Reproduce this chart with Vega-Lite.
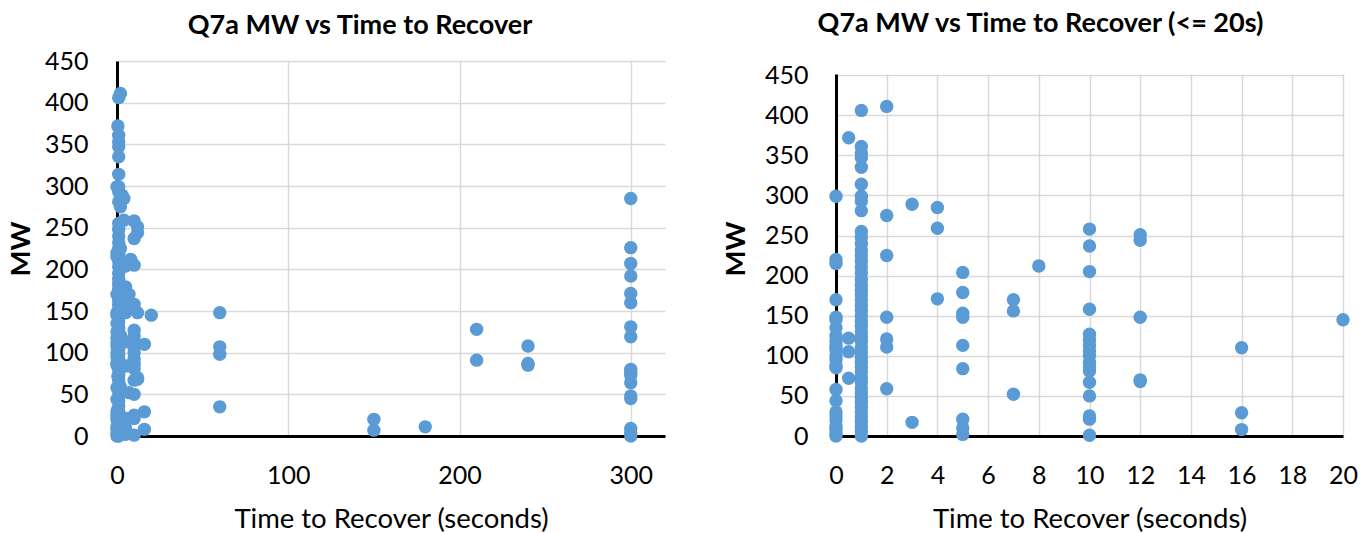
{
  "$schema": "https://vega.github.io/schema/vega-lite/v6.json",
  "background": "white",
  "padding": {"left": 7, "top": 10, "right": 5, "bottom": 0},
  "data": {"values": [
    {"t": 0, "mw": 299}, {"t": 0, "mw": 220}, {"t": 0, "mw": 215}, {"t": 0, "mw": 170}, {"t": 0, "mw": 148}, {"t": 0, "mw": 145}, {"t": 0, "mw": 135}, {"t": 0, "mw": 125}, {"t": 0, "mw": 118}, {"t": 0, "mw": 112}, {"t": 0, "mw": 108}, {"t": 0, "mw": 100}, {"t": 0, "mw": 95}, {"t": 0, "mw": 88}, {"t": 0, "mw": 85}, {"t": 0, "mw": 58}, {"t": 0, "mw": 44}, {"t": 0, "mw": 30}, {"t": 0, "mw": 25}, {"t": 0, "mw": 20}, {"t": 0, "mw": 12}, {"t": 0, "mw": 8}, {"t": 0, "mw": 3}, {"t": 0, "mw": 0},
    {"t": 0.5, "mw": 372}, {"t": 0.5, "mw": 122}, {"t": 0.5, "mw": 105}, {"t": 0.5, "mw": 72},
    {"t": 1, "mw": 406}, {"t": 1, "mw": 361}, {"t": 1, "mw": 353}, {"t": 1, "mw": 347}, {"t": 1, "mw": 335}, {"t": 1, "mw": 314}, {"t": 1, "mw": 299}, {"t": 1, "mw": 293}, {"t": 1, "mw": 281}, {"t": 1, "mw": 255}, {"t": 1, "mw": 248}, {"t": 1, "mw": 240}, {"t": 1, "mw": 232}, {"t": 1, "mw": 225}, {"t": 1, "mw": 218}, {"t": 1, "mw": 210}, {"t": 1, "mw": 203}, {"t": 1, "mw": 195}, {"t": 1, "mw": 188}, {"t": 1, "mw": 182}, {"t": 1, "mw": 176}, {"t": 1, "mw": 170}, {"t": 1, "mw": 163}, {"t": 1, "mw": 157}, {"t": 1, "mw": 150}, {"t": 1, "mw": 143}, {"t": 1, "mw": 137}, {"t": 1, "mw": 130}, {"t": 1, "mw": 124}, {"t": 1, "mw": 118}, {"t": 1, "mw": 111}, {"t": 1, "mw": 104}, {"t": 1, "mw": 98}, {"t": 1, "mw": 92}, {"t": 1, "mw": 86}, {"t": 1, "mw": 80}, {"t": 1, "mw": 73}, {"t": 1, "mw": 67}, {"t": 1, "mw": 60}, {"t": 1, "mw": 54}, {"t": 1, "mw": 48}, {"t": 1, "mw": 42}, {"t": 1, "mw": 36}, {"t": 1, "mw": 30}, {"t": 1, "mw": 24}, {"t": 1, "mw": 18}, {"t": 1, "mw": 12}, {"t": 1, "mw": 6}, {"t": 1, "mw": 0},
    {"t": 2, "mw": 411}, {"t": 2, "mw": 275}, {"t": 2, "mw": 225}, {"t": 2, "mw": 148}, {"t": 2, "mw": 121}, {"t": 2, "mw": 111}, {"t": 2, "mw": 59},
    {"t": 3, "mw": 289}, {"t": 3, "mw": 17},
    {"t": 4, "mw": 285}, {"t": 4, "mw": 259}, {"t": 4, "mw": 171},
    {"t": 5, "mw": 204}, {"t": 5, "mw": 179}, {"t": 5, "mw": 153}, {"t": 5, "mw": 148}, {"t": 5, "mw": 113}, {"t": 5, "mw": 84}, {"t": 5, "mw": 21}, {"t": 5, "mw": 10}, {"t": 5, "mw": 2},
    {"t": 7, "mw": 170}, {"t": 7, "mw": 156}, {"t": 7, "mw": 52},
    {"t": 8, "mw": 212},
    {"t": 10, "mw": 258}, {"t": 10, "mw": 237}, {"t": 10, "mw": 205}, {"t": 10, "mw": 158}, {"t": 10, "mw": 127}, {"t": 10, "mw": 120}, {"t": 10, "mw": 113}, {"t": 10, "mw": 106}, {"t": 10, "mw": 100}, {"t": 10, "mw": 92}, {"t": 10, "mw": 86}, {"t": 10, "mw": 81}, {"t": 10, "mw": 67}, {"t": 10, "mw": 50}, {"t": 10, "mw": 25}, {"t": 10, "mw": 21}, {"t": 10, "mw": 1},
    {"t": 12, "mw": 251}, {"t": 12, "mw": 244}, {"t": 12, "mw": 148}, {"t": 12, "mw": 70}, {"t": 12, "mw": 68},
    {"t": 16, "mw": 110}, {"t": 16, "mw": 29}, {"t": 16, "mw": 8},
    {"t": 20, "mw": 145},
    {"t": 60, "mw": 148}, {"t": 60, "mw": 107}, {"t": 60, "mw": 98}, {"t": 60, "mw": 35},
    {"t": 150, "mw": 20}, {"t": 150, "mw": 7},
    {"t": 180, "mw": 11},
    {"t": 210, "mw": 128}, {"t": 210, "mw": 91},
    {"t": 240, "mw": 108}, {"t": 240, "mw": 87}, {"t": 240, "mw": 85},
    {"t": 300, "mw": 285}, {"t": 300, "mw": 226}, {"t": 300, "mw": 207}, {"t": 300, "mw": 192}, {"t": 300, "mw": 171}, {"t": 300, "mw": 160}, {"t": 300, "mw": 131}, {"t": 300, "mw": 119}, {"t": 300, "mw": 80}, {"t": 300, "mw": 76}, {"t": 300, "mw": 73}, {"t": 300, "mw": 64}, {"t": 300, "mw": 48}, {"t": 300, "mw": 45}, {"t": 300, "mw": 9}, {"t": 300, "mw": 4}, {"t": 300, "mw": 0}
  ]},
  "config": {
    "view": {"stroke": null},
    "font": "Lato",
    "axis": {
      "labelFont": "Lato", "labelFontSize": 25, "labelColor": "#000", "labelFlush": false,
      "titleFont": "Lato", "titleFontSize": 27.5, "titleColor": "#000",
      "ticks": false, "grid": true, "gridColor": "#d9d9d9", "gridWidth": 1.5,
      "domainColor": "#000", "domainWidth": 3
    },
    "title": {"font": "Lato", "fontSize": 27, "fontWeight": "bold", "color": "#000"}
  },
  "spacing": 57,
  "hconcat": [
    {
      "title": {"text": "Q7a MW vs Time to Recover", "offset": 9, "dx": -31},
      "width": 548,
      "height": 375,
      "mark": {"type": "circle", "size": 180, "opacity": 1, "color": "#5B9BD5"},
      "encoding": {
        "x": {"field": "t", "type": "quantitative", "scale": {"domain": [0, 320], "nice": false},
          "axis": {"values": [0, 100, 200, 300], "grid": true, "title": "Time to Recover (seconds)", "titleFontWeight": "normal", "labelPadding": 27, "titlePadding": 17}},
        "y": {"field": "mw", "type": "quantitative", "scale": {"domain": [0, 450], "nice": false},
          "axis": {"values": [0, 50, 100, 150, 200, 250, 300, 350, 400, 450], "grid": true, "title": "MW", "titleFontWeight": "bold", "labelPadding": 29, "titlePadding": 9}}
      }
    },
    {
      "title": {"text": "Q7a MW vs Time to Recover (<= 20s)", "offset": 21, "dx": -49},
      "width": 507,
      "height": 375,
      "layer": [
        {
          "data": {"values": [{}]},
          "mark": {"type": "rect", "color": "white"},
          "encoding": {
            "x": {"datum": -0.3, "type": "quantitative", "scale": {"domain": [0, 20], "nice": false},
              "axis": {"values": [0, 2, 4, 6, 8, 10, 12, 14, 16, 18, 20], "grid": true, "title": "Time to Recover (seconds)", "titleFontWeight": "normal", "labelPadding": 27, "titlePadding": 17}},
            "x2": {"datum": 20.3},
            "y": {"datum": 450.9, "type": "quantitative", "scale": {"domain": [0, 467.6], "nice": false},
              "axis": {"values": [0, 50, 100, 150, 200, 250, 300, 350, 400, 450], "grid": true, "title": "MW", "titleFontWeight": "bold", "labelPadding": 28, "titlePadding": 14}},
            "y2": {"datum": 470}
          }
        },
        {
          "transform": [{"filter": "datum.t <= 20"}],
          "mark": {"type": "circle", "size": 180, "opacity": 1, "color": "#5B9BD5"},
          "encoding": {
            "x": {"field": "t", "type": "quantitative", "scale": {"domain": [0, 20], "nice": false},
              "axis": {"values": [0, 2, 4, 6, 8, 10, 12, 14, 16, 18, 20], "grid": true, "title": "Time to Recover (seconds)", "titleFontWeight": "normal", "labelPadding": 27, "titlePadding": 17}},
            "y": {"field": "mw", "type": "quantitative", "scale": {"domain": [0, 467.6], "nice": false},
              "axis": {"values": [0, 50, 100, 150, 200, 250, 300, 350, 400, 450], "grid": true, "title": "MW", "titleFontWeight": "bold", "labelPadding": 28, "titlePadding": 14}}
          }
        }
      ]
    }
  ]
}
